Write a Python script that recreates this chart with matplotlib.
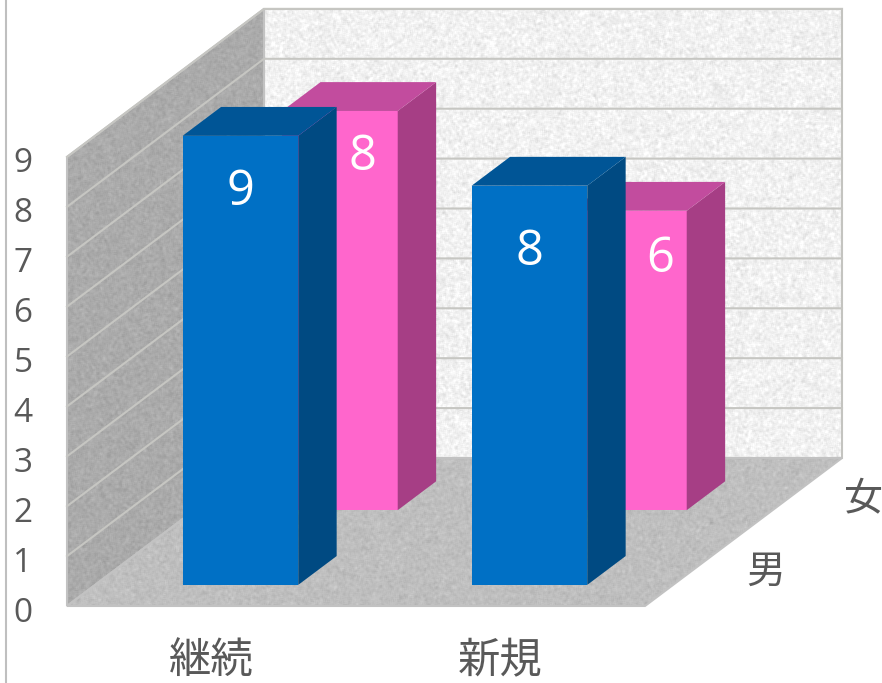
import numpy as np
import matplotlib
matplotlib.use("Agg")
import matplotlib.pyplot as plt
from matplotlib.patches import Polygon

plt.rcParams['font.family'] = ['Open Sans', 'Noto Sans CJK JP', 'DejaVu Sans']

categories = ["継続", "新規"]
series_names = ["男", "女"]
male_values = [9, 8]
female_values = [8, 6]
value_ticks = [0, 1, 2, 3, 4, 5, 6, 7, 8, 9]

# oblique projection of (category, series depth, value) on to the figure
ORIGIN_X, ORIGIN_Y = 67, 606
CAT_W = 289
UNIT_H = 49.9
DEPTH_X, DEPTH_Y = 98.5, 74


def project(c, d, v):
    return (ORIGIN_X + CAT_W * c + DEPTH_X * d, ORIGIN_Y - UNIT_H * v - DEPTH_Y * d)


def noise_texture(seed, base, amount, shape=(683, 882), blur=2):
    rng = np.random.default_rng(seed)
    n = rng.normal(size=shape)
    for axis in (0, 1):
        n = sum(np.roll(n, k, axis=axis) for k in range(blur + 1))
    n = n / n.std()
    return np.clip(base + amount * n, 0, 255)


fig = plt.figure(figsize=(8.82, 6.83), dpi=100)
ax = fig.add_axes([0, 0, 1, 1])
ax.set_xlim(0, 882)
ax.set_ylim(683, 0)
ax.axis("off")


def textured_face(corners, seed, base, amount, edge):
    img = ax.imshow(noise_texture(seed, base, amount), cmap="gray", vmin=0, vmax=255,
                    extent=(0, 882, 683, 0), zorder=1, interpolation="bilinear", aspect="auto")
    poly = Polygon(corners, closed=True, facecolor="none", edgecolor=edge, lw=1.5, zorder=2)
    ax.add_patch(poly)
    img.set_clip_path(poly)


vmax = value_ticks[-1]
ncat = len(categories)
ndepth = len(series_names)

# chart frame edge on the left
ax.plot([6, 6], [0, 683], color="#BFBFBF", lw=1.5, zorder=1)

# back wall, side wall and floor
textured_face([project(0, ndepth, 0), project(ncat, ndepth, 0), project(ncat, ndepth, vmax), project(0, ndepth, vmax)],
              1, 241, 6, "#C4C4C0")
textured_face([project(0, 0, 0), project(0, ndepth, 0), project(0, ndepth, vmax), project(0, 0, vmax)],
              2, 170, 4, "#C2C2C2")
textured_face([project(0, 0, 0), project(ncat, 0, 0), project(ncat, ndepth, 0), project(0, ndepth, 0)],
              3, 190, 4, "#C2C2C2")

for v in value_ticks:
    if v > 0:
        xs, ys = zip(project(0, 0, v), project(0, ndepth, v), project(ncat, ndepth, v))
        ax.plot(xs, ys, color="#C6C6C2", lw=1.5, zorder=3, solid_joinstyle="miter")
    ax.text(23, project(0, 0, v)[1] + 3, str(v), ha="center", va="center_baseline", fontsize=24, color="#595959")

for i, name in enumerate(categories):
    x, y = project(i + 0.5, 0, 0)
    ax.text(x, 661, name, ha="center", va="center", fontsize=30.5, color="#595959",
            family=['Noto Sans CJK JP', 'DejaVu Sans'])

for d, name in enumerate(series_names):
    x, y = project(ncat, d + 0.5, 0)
    ax.text(x + 71, y + 3, name, ha="center", va="center", fontsize=28, color="#595959",
            family=['Noto Sans CJK JP', 'DejaVu Sans'])


def draw_bar(c, d, value, front, side, top, zorder, half_w=0.2, half_d=0.195):
    c0, c1 = c - half_w, c + half_w
    d0, d1 = d - half_d, d + half_d
    ax.add_patch(Polygon([project(c0, d0, 0), project(c1, d0, 0), project(c1, d0, value), project(c0, d0, value)],
                         facecolor=front, edgecolor="none", zorder=zorder))
    ax.add_patch(Polygon([project(c1, d0, 0), project(c1, d1, 0), project(c1, d1, value), project(c1, d0, value)],
                         facecolor=side, edgecolor="none", zorder=zorder))
    ax.add_patch(Polygon([project(c0, d0, value), project(c1, d0, value), project(c1, d1, value), project(c0, d1, value)],
                         facecolor=top, edgecolor="none", zorder=zorder))
    return project(c, d0, value)


# back row first so the front row covers it
female_label_shift = [(23, 46), (31, 48)]
for i, v in enumerate(female_values):
    x, y = draw_bar(i + 0.5 + 0.003, 1.49, v, "#FF66CC", "#A63E85", "#C24C9E", 5)
    dx, dy = female_label_shift[i]
    ax.text(x + dx, y + dy, str(v), ha="center", va="center", fontsize=35, color="white", zorder=7)

male_label_shift = [(0, 56), (0, 67)]
for i, v in enumerate(male_values):
    x, y = draw_bar(i + 0.5 + 0.003, 0.48, v, "#0070C5", "#004A82", "#005596", 6)
    dx, dy = male_label_shift[i]
    ax.text(x + dx, y + dy, str(v), ha="center", va="center", fontsize=35, color="white", zorder=7)

fig.savefig("out.png", dpi=100)
